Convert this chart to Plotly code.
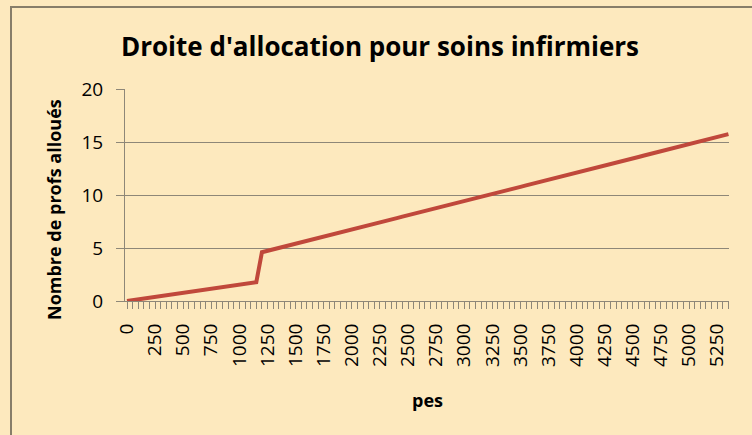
import plotly.graph_objects as go

# Data
pes = list(range(0, 5400, 50))  # categories 0..5350 step 50
profs = [
    0.00, 0.08, 0.15, 0.23, 0.31, 0.39, 0.46, 0.54, 0.62, 0.70,
    0.77, 0.85, 0.93, 1.01, 1.08, 1.16, 1.24, 1.32, 1.39, 1.47,
    1.55, 1.63, 1.70, 1.78,
    4.60, 4.73, 4.87, 5.00, 5.14, 5.27, 5.41, 5.54, 5.67, 5.81,
    5.94, 6.08, 6.21, 6.34, 6.48, 6.61, 6.75, 6.88, 7.02, 7.15,
    7.28, 7.42, 7.55, 7.69, 7.82, 7.96, 8.09, 8.22, 8.36, 8.49,
    8.63, 8.76, 8.90, 9.03, 9.16, 9.30, 9.43, 9.57, 9.70, 9.83,
    9.97, 10.10, 10.24, 10.37, 10.51, 10.64, 10.77, 10.91, 11.04, 11.18,
    11.31, 11.45, 11.58, 11.71, 11.85, 11.98, 12.12, 12.25, 12.38, 12.52,
    12.65, 12.79, 12.92, 13.06, 13.19, 13.32, 13.46, 13.59, 13.73, 13.86,
    14.00, 14.13, 14.26, 14.40, 14.53, 14.67, 14.80, 14.93, 15.07, 15.20,
    15.34, 15.47, 15.61, 15.74,
]
x_tick_vals = [0, 250, 500, 750, 1000, 1250, 1500, 1750, 2000, 2250, 2500,
               2750, 3000, 3250, 3500, 3750, 4000, 4250, 4500, 4750, 5000, 5250]
x_tick_text = [str(v) for v in x_tick_vals]
y_tick_vals = [0, 5, 10, 15, 20]

BG = "#FDE9BE"
GRID = "#8E8778"
FONT = "Open Sans"

W, H = 752, 435
ML, MR, MT, MB = 125, 23, 89, 134

fig = go.Figure()
fig.add_trace(go.Scatter(
    x=pes, y=profs, mode="lines",
    line=dict(color="#C0483B", width=4),
    showlegend=False, hoverinfo="skip",
))

pw = W - ML - MR
ph = H - MT - MB
def px_x(p):
    return (p - ML) / pw
def px_y(p):
    return (H - MB - p) / ph

fig.add_shape(type="rect", xref="paper", yref="paper",
              x0=px_x(11), x1=px_x(770), y0=px_y(460), y1=px_y(7),
              line=dict(color="#877D69", width=2), fillcolor="rgba(0,0,0,0)",
              layer="below")

fig.add_annotation(text="<b>Nombre de profs alloués</b>", xref="paper", yref="paper",
                   x=px_x(54), y=px_y(210), xanchor="center", yanchor="middle",
                   textangle=-90, showarrow=False,
                   font=dict(size=18, family=FONT, color="#000000"))
fig.add_annotation(text="<b>pes</b>", xref="paper", yref="paper",
                   x=px_x(427), y=px_y(400), xanchor="center", yanchor="middle",
                   showarrow=False,
                   font=dict(size=18, family=FONT, color="#000000"))

fig.update_layout(
    width=W, height=H,
    margin=dict(l=ML, r=MR, t=MT, b=MB, autoexpand=False),
    paper_bgcolor=BG, plot_bgcolor=BG,
    font=dict(family=FONT, color="#000000"),
    title=dict(text="<b>Droite d'allocation pour soins infirmiers</b>",
               x=380 / W, xanchor="center", y=1 - 47 / H, yanchor="middle",
               font=dict(size=26, family=FONT, color="#000000")),
    xaxis=dict(
        type="linear", range=[-18, 5355],
        tickmode="array", tickvals=x_tick_vals, ticktext=x_tick_text,
        tickangle=-90, tickfont=dict(size=19, family=FONT, color="#000000"),
        ticks="outside", ticklen=7, tickcolor=GRID, tickwidth=1,
        minor=dict(dtick=50, tick0=0, ticks="outside", ticklen=7, tickcolor=GRID, tickwidth=1, showgrid=False),
        ticklabelstandoff=7,
        showgrid=False, zeroline=False,
        showline=True, linecolor=GRID, linewidth=1,
    ),
    yaxis=dict(
        range=[0, 20], tickmode="array", tickvals=y_tick_vals,
        tickfont=dict(size=19, family=FONT, color="#000000"),
        ticks="outside", ticklen=8, tickcolor=GRID, tickwidth=1,
        ticklabelstandoff=9,
        showgrid=True, gridcolor=GRID, gridwidth=1,
        zeroline=False,
        showline=True, linecolor=GRID, linewidth=1,
    ),
)

fig.write_html("out.html", config={"displayModeBar": False},
               post_script="document.body.style.margin='0';document.body.style.background='#FDE9BE';")
